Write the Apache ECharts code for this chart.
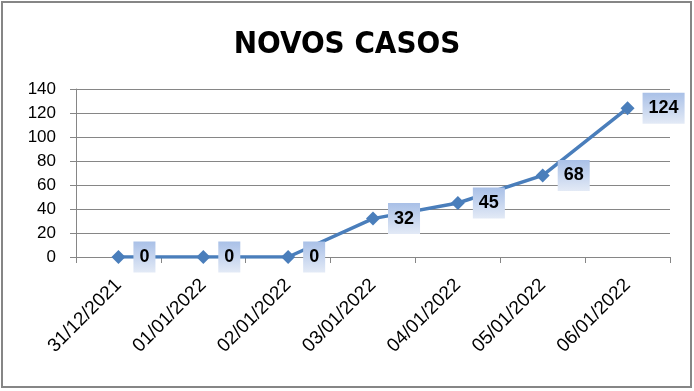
<!DOCTYPE html>
<html>
<head>
<meta charset="utf-8">
<script src="https://cdn.jsdelivr.net/npm/echarts@6/dist/echarts.min.js"></script>
<style>html,body{margin:0;padding:0;background:#fff}#c{width:694px;height:391px}</style>
</head>
<body>
<div id="c"></div>
<script>
var categories = ['31/12/2021','01/01/2022','02/01/2022','03/01/2022','04/01/2022','05/01/2022','06/01/2022'];
var novosCasos = [0, 0, 0, 32, 45, 68, 124];
var yTicks = {min: 0, max: 140, interval: 20};
var titleText = 'NOVOS CASOS';

var chart = echarts.init(document.getElementById('c'), null, {renderer: 'canvas'});
chart.setOption({
  animation: false,
  backgroundColor: '#fff',
  graphic: [{
    type: 'rect', silent: true, z: 100,
    shape: {x: 2, y: 2, width: 689, height: 385},
    style: {fill: 'none', stroke: '#868686', lineWidth: 2}
  }],
  title: {
    text: titleText, left: 'center', top: 24,
    textStyle: {fontFamily: '"DejaVu Sans Condensed", "Liberation Sans", sans-serif', fontWeight: 'bold', fontSize: 31, color: '#000'}
  },
  grid: {left: 76, right: 24, top: 89, bottom: 134, containLabel: false},
  xAxis: {
    type: 'category', data: categories, boundaryGap: true,
    axisLine: {lineStyle: {color: '#868686', width: 1}},
    axisTick: {show: true, length: 6, lineStyle: {color: '#868686'}},
    axisLabel: {rotate: 45, margin: 25, fontFamily: 'Liberation Sans', fontSize: 19, color: '#000', interval: 0}
  },
  yAxis: {
    type: 'value', min: yTicks.min, max: yTicks.max, interval: yTicks.interval,
    axisLine: {show: true, lineStyle: {color: '#868686', width: 1}},
    axisTick: {show: true, length: 6, lineStyle: {color: '#868686'}},
    splitLine: {lineStyle: {color: '#868686', width: 1}},
    axisLabel: {margin: 20, fontFamily: 'Liberation Sans', fontSize: 17, color: '#000'}
  },
  series: [{
    type: 'line', data: novosCasos,
    symbol: 'diamond', symbolSize: 14,
    lineStyle: {color: '#4a7ebb', width: 3.5},
    itemStyle: {color: '#4a7ebb'},
    label: {
      show: true, position: 'right', distance: 8,
      fontFamily: 'Liberation Sans', fontWeight: 'bold', fontSize: 18, color: '#000',
      padding: [7, 6, 6, 6],
      backgroundColor: new echarts.graphic.LinearGradient(0, 0, 0, 1, [
        {offset: 0, color: '#a9c0e7'}, {offset: 1, color: '#e3eaf6'}
      ])
    }
  }]
});
</script>
</body>
</html>
